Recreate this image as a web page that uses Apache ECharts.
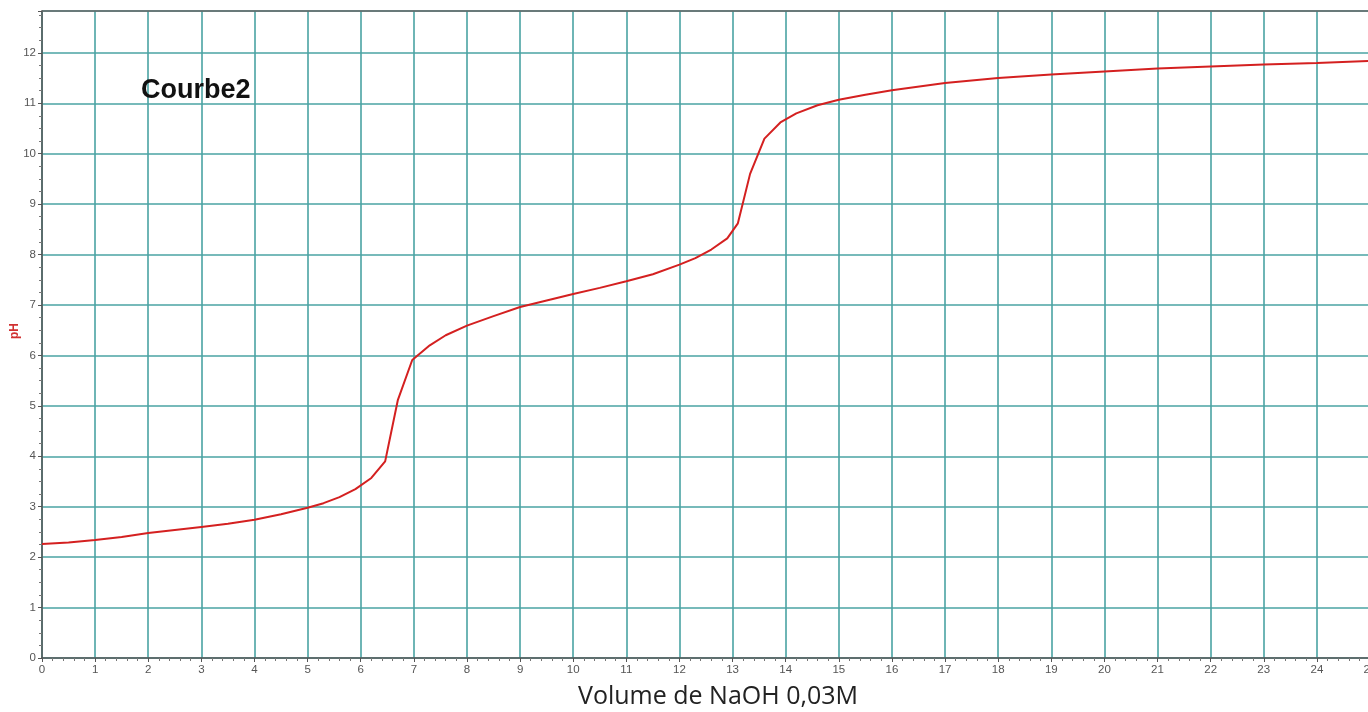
<!DOCTYPE html>
<html>
<head>
<meta charset="utf-8">
<script src="https://cdn.jsdelivr.net/npm/echarts@6/dist/echarts.min.js"></script>
<style>
  html, body { margin: 0; padding: 0; background: #fff; }
  #chart { width: 1368px; height: 712px; }
</style>
</head>
<body>
<div id="chart"></div>
<script>
// volume de NaOH (mL) et pH
const volumes = [0, 0.5, 1, 1.5, 2, 2.5, 3, 3.5, 4, 4.5, 5, 5.3, 5.6, 5.9, 6.2, 6.46, 6.7, 6.97, 7.3, 7.6, 8, 8.5, 9, 9.5, 10, 10.5, 11, 11.5, 12, 12.3, 12.6, 12.9, 13.1, 13.33, 13.6, 13.9, 14.2, 14.6, 15, 15.5, 16, 17, 18, 19, 20, 21, 22, 23, 24, 25];
const phValues = [2.26, 2.29, 2.34, 2.40, 2.48, 2.54, 2.60, 2.66, 2.74, 2.85, 2.98, 3.07, 3.19, 3.35, 3.57, 3.90, 5.12, 5.91, 6.20, 6.40, 6.59, 6.78, 6.96, 7.09, 7.22, 7.34, 7.47, 7.61, 7.80, 7.93, 8.10, 8.32, 8.62, 9.60, 10.30, 10.62, 10.80, 10.96, 11.07, 11.17, 11.26, 11.40, 11.50, 11.57, 11.63, 11.69, 11.73, 11.77, 11.80, 11.84];

const points = volumes.map((v, i) => [v, phValues[i]]);

const chart = echarts.init(document.getElementById("chart"));

const gridColor = "#4aa3a3";

chart.setOption({
  animation: false,
  grid: {
    left: 42, right: -2, top: 11, bottom: 54,
    containLabel: false,
    outerBoundsMode: "none"
  },
  title: {
    text: "Courbe2",
    left: 136, top: 72,
    textStyle: { fontSize: 27, fontWeight: "bold", color: "#111", fontFamily: "Liberation Sans" }
  },
  graphic: [{
    type: "text",
    left: 578,
    top: 684,
    style: {
      text: "Volume de NaOH 0,03M",
      fontSize: 25,
      fontFamily: "Open Sans",
      fill: "#222"
    }
  }, {
    // nom de l'axe vertical
    type: "text",
    x: 15, y: 331,
    rotation: Math.PI / 2,
    style: {
      text: "pH",
      fontSize: 12,
      fontWeight: "bold",
      fontFamily: "Liberation Sans",
      fill: "#d03030",
      align: "center",
      verticalAlign: "middle"
    }
  }],
  xAxis: [{
    type: "value",
    min: 0, max: 25, interval: 1,
    axisLine: { lineStyle: { color: "#555", width: 1.5 } },
    axisTick: { show: true, length: 4, lineStyle: { color: "#555" } },
    minorTick: { show: true, splitNumber: 5, length: 3, lineStyle: { color: "#777" } },
    axisLabel: { color: "#555", fontSize: 11.5, margin: 6, fontFamily: "Liberation Sans" },
    splitLine: { show: true, lineStyle: { color: gridColor, width: 1.6 } }
  }, {
    // trait du cadre en haut
    type: "value",
    position: "top",
    min: 0, max: 25,
    axisLine: { show: true, lineStyle: { color: "#666", width: 1.5 } },
    axisTick: { show: false },
    axisLabel: { show: false },
    splitLine: { show: false }
  }],
  yAxis: {
    type: "value",
    min: 0, max: 12.83, interval: 1,
    axisLine: { show: true, lineStyle: { color: "#555", width: 1.5 } },
    axisTick: { show: true, length: 4, lineStyle: { color: "#555" } },
    minorTick: { show: true, splitNumber: 4, length: 3, lineStyle: { color: "#777" } },
    axisLabel: { color: "#555", fontSize: 11.5, margin: 6, showMaxLabel: false, fontFamily: "Liberation Sans" },
    splitLine: { show: true, lineStyle: { color: gridColor, width: 1.6 } }
  },
  series: [{
    type: "line",
    xAxisIndex: 0,
    data: points,
    showSymbol: false,
    smooth: false,
    lineStyle: { color: "#d42020", width: 2 }
  }]
});
</script>
</body>
</html>
